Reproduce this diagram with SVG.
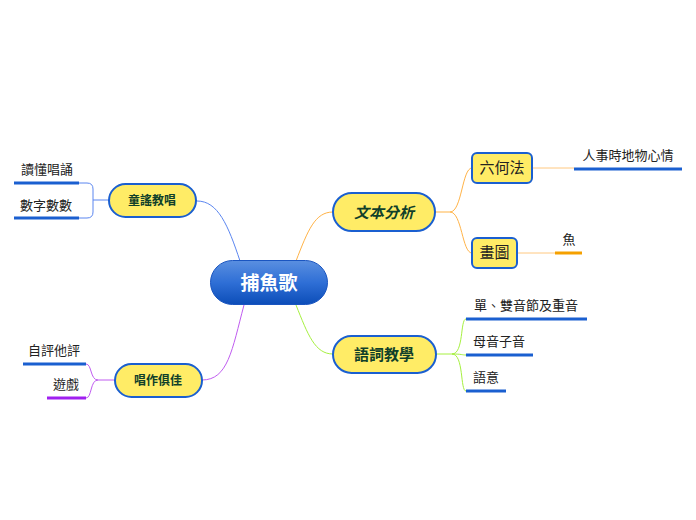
<svg xmlns="http://www.w3.org/2000/svg" width="696" height="520" viewBox="0 0 696 520">
<defs>
<linearGradient id="cg" x1="0" y1="0" x2="0" y2="1">
<stop offset="0" stop-color="#5a8fe0"/>
<stop offset="0.5" stop-color="#2f6fd6"/>
<stop offset="1" stop-color="#0c4db8"/>
</linearGradient>
<style>
.t{font-family:"Noto Sans CJK TC","Noto Sans CJK SC",sans-serif;}
.main{fill:#ffec66;stroke:#1a5fd0;stroke-width:2;}
.mt{font-weight:bold;fill:#10402a;text-anchor:middle;}
.lt{fill:#222;font-size:13px;text-anchor:middle;}
.c{fill:none;stroke-width:1;}
.ul{stroke-width:3;fill:none;}
</style>
</defs>
<rect width="696" height="520" fill="#fff"/>
<g id="connectors">
<path class="c" stroke="#5b86f0" d="M240,261 C228,225 218,201 197,201"/>
<path class="c" stroke="#ffb347" d="M296,261 C308,230 315,212 333,212"/>
<path class="c" stroke="#a6f040" d="M296,305 C308,335 315,354 333,354"/>
<path class="c" stroke="#c05cf0" d="M244,305 C232,350 228,380 202,380"/>
<path class="c" stroke="#ffb347" d="M435,212 H450 C462,212 462,168 472,168 M450,212 C462,212 462,253 472,253"/>
<path class="c" stroke="#ffc880" d="M532,168 H574 M517,253 H555"/>
<path class="c" stroke="#a6f040" d="M436,354 H452 C464,354 460,319 466,319 M452,354 C462,354 462,355 466,355 M452,354 C464,354 460,391 466,391"/>
<path class="c" stroke="#5b86f0" d="M109,200 H93 M79,183 H87 Q93,183 93,189 V212 Q93,218 87,218 H79"/>
<path class="c" stroke="#c05cf0" d="M115,380 H98 C90,380 92,364 86,364 M98,380 C90,380 92,398 86,398"/>
</g>
<g id="central">
<rect x="210.500" y="260.500" width="117" height="44" rx="22" fill="url(#cg)" stroke="#1a55c0" stroke-width="1"/>
<text class="t" x="269" y="290" font-size="19" font-weight="bold" fill="#fff" text-anchor="middle">捕魚歌</text>
</g>
<g id="n-tongyao">
<rect class="main" x="109" y="184" width="87" height="33" rx="16.500"/>
<text class="t mt" x="152" y="205" font-size="12">童謠教唱</text>
</g>
<g id="n-wenben">
<rect class="main" x="333" y="193" width="102" height="38" rx="19"/>
<text class="t mt" x="384" y="218" font-size="15" font-style="italic">文本分析</text>
</g>
<g id="n-yuci">
<rect class="main" x="333" y="336" width="103" height="37" rx="18.500"/>
<text class="t mt" x="384" y="360" font-size="15">語詞教學</text>
</g>
<g id="n-changzuo">
<rect class="main" x="115" y="364" width="87" height="33" rx="16.500"/>
<text class="t mt" x="158" y="385" font-size="12">唱作俱佳</text>
</g>
<g id="n-liuhe">
<rect class="main" x="472" y="153" width="60" height="30" rx="5"/>
<text class="t" x="502" y="173" font-size="15" fill="#222" text-anchor="middle">六何法</text>
</g>
<g id="n-huatu">
<rect class="main" x="472" y="238" width="45" height="30" rx="5"/>
<text class="t" x="494.500" y="258" font-size="15" fill="#222" text-anchor="middle">畫圖</text>
</g>
<g id="l-renshi">
<text class="t lt" x="628" y="160">人事時地物心情</text>
<path class="ul" stroke="#1a5fd0" d="M574,169 H682"/>
</g>
<g id="l-yu">
<text class="t lt" x="569" y="244">魚</text>
<path class="ul" stroke="#f5a000" d="M555,253 H582"/>
</g>
<g id="l-shuang">
<text class="t lt" x="526" y="310">單、雙音節及重音</text>
<path class="ul" stroke="#1a5fd0" d="M466,319 H587"/>
</g>
<g id="l-muyin">
<text class="t lt" x="499" y="346">母音子音</text>
<path class="ul" stroke="#1a5fd0" d="M466,355 H533"/>
</g>
<g id="l-yuyi">
<text class="t lt" x="486" y="382">語意</text>
<path class="ul" stroke="#1a5fd0" d="M466,391 H506"/>
</g>
<g id="l-dudong">
<text class="t lt" x="47" y="174">讀懂唱誦</text>
<path class="ul" stroke="#1a5fd0" d="M14,183 H79"/>
</g>
<g id="l-shuzi">
<text class="t lt" x="46" y="210">數字數數</text>
<path class="ul" stroke="#1a5fd0" d="M14,218 H79"/>
</g>
<g id="l-ziping">
<text class="t lt" x="54" y="355" font-size="12">自評他評</text>
<path class="ul" stroke="#1a5fd0" d="M23,364 H86"/>
</g>
<g id="l-youxi">
<text class="t lt" x="66" y="389" font-size="12">遊戲</text>
<path class="ul" stroke="#a020f0" d="M47,398 H86"/>
</g>
</svg>
